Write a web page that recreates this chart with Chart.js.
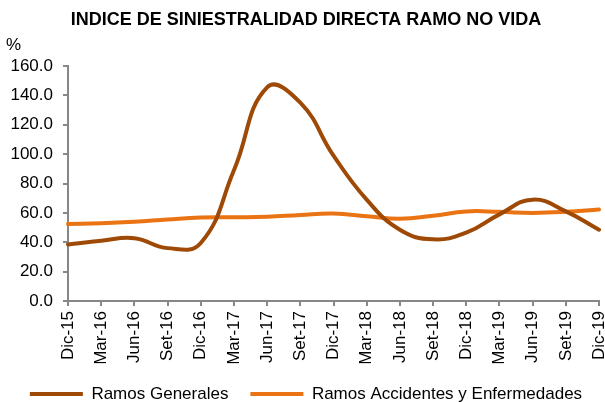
<!DOCTYPE html>
<html lang="es">
<head>
<meta charset="utf-8">
<title>Indice de siniestralidad directa ramo no vida</title>
<script src="https://cdn.jsdelivr.net/npm/chart.js@4/dist/chart.umd.min.js"></script>
<style>
  html, body { margin: 0; padding: 0; background: #ffffff; }
  #chart { display: block; }
</style>
</head>
<body>
<canvas id="chart" width="605" height="402"></canvas>
<script>
// Quarterly periods, Dic-15 .. Dic-19
const periods = [
  "Dic-15", "Mar-16", "Jun-16", "Set-16", "Dic-16", "Mar-17", "Jun-17", "Set-17", "Dic-17",
  "Mar-18", "Jun-18", "Set-18", "Dic-18", "Mar-19", "Jun-19", "Set-19", "Dic-19"
];

// Siniestralidad (%)
const ramosGenerales = [38.5, 41.0, 42.8, 36.0, 39.5, 89.0, 145.5, 135.0, 99.0, 69.0, 48.5, 42.0, 46.5, 59.0, 69.0, 61.0, 48.5];
const ramosAccidentes = [52.5, 53.0, 54.0, 55.5, 56.8, 57.0, 57.3, 58.6, 59.5, 57.7, 56.0, 58.0, 61.0, 60.7, 60.0, 60.7, 62.3];

const yTicks = [0, 20, 40, 60, 80, 100, 120, 140, 160];

const GRAY = "#878787";
const FONT = "'Liberation Sans', Arial, sans-serif";

const axisGrid = {
  display: true,
  drawOnChartArea: false,
  drawTicks: true,
  tickLength: 5,
  color: GRAY,
  lineWidth: 2,
};

const lineDataset = (label, data, color) => ({
  label: label,
  data: data,
  borderColor: color,
  backgroundColor: color,
  borderWidth: 4,
  borderCapStyle: "round",
  borderJoinStyle: "round",
  tension: 0.45,
  fill: false,
  pointRadius: 0,
  pointHoverRadius: 0,
  pointBorderWidth: 4,
  pointBorderColor: color,
});

const ctx = document.getElementById("chart").getContext("2d");

new Chart(ctx, {
  type: "line",
  data: {
    labels: periods,
    datasets: [
      lineDataset("Ramos Generales", ramosGenerales, "#9E4A06"),
      lineDataset("Ramos Accidentes y Enfermedades", ramosAccidentes, "#EA7313"),
    ],
  },
  options: {
    responsive: false,
    animation: false,
    layout: {
      padding: { left: 6, right: -1, top: 0, bottom: -10.5 },
    },
    plugins: {
      title: {
        display: true,
        text: "INDICE DE SINIESTRALIDAD DIRECTA RAMO NO VIDA",
        color: "#000000",
        font: { family: FONT, size: 18, weight: "bold" },
        padding: { top: 9, bottom: 0 },
      },
      subtitle: {
        display: true,
        text: "%",
        align: "start",
        color: "#000000",
        font: { family: FONT, size: 17 },
        padding: { top: 4.2, bottom: 10.8 },
      },
      legend: {
        position: "bottom",
        labels: {
          usePointStyle: true,
          pointStyle: "line",
          pointStyleWidth: 53,
          color: "#000000",
          font: { family: FONT, size: 17 },
          padding: 22,
        },
      },
      tooltip: { enabled: false },
    },
    scales: {
      x: {
        grid: axisGrid,
        border: { display: true, color: GRAY, width: 2 },
        ticks: {
          autoSkip: false,
          minRotation: 90,
          maxRotation: 90,
          padding: 5,
          color: "#000000",
          font: { family: FONT, size: 17 },
        },
        afterFit: (scale) => {
          scale.height = 62.5;
          scale.paddingLeft = 0;
          scale.paddingRight = 6;
        },
      },
      y: {
        min: 0,
        max: 160,
        grid: axisGrid,
        border: { display: true, color: GRAY, width: 2 },
        ticks: {
          padding: 10,
          color: "#000000",
          font: { family: FONT, size: 17 },
          callback: (value) => Number(value).toFixed(1),
        },
        afterBuildTicks: (scale) => {
          scale.ticks = yTicks.map((v) => ({ value: v }));
        },
        afterFit: (scale) => {
          scale.width = 62;
        },
      },
    },
  },
});
</script>
</body>
</html>
